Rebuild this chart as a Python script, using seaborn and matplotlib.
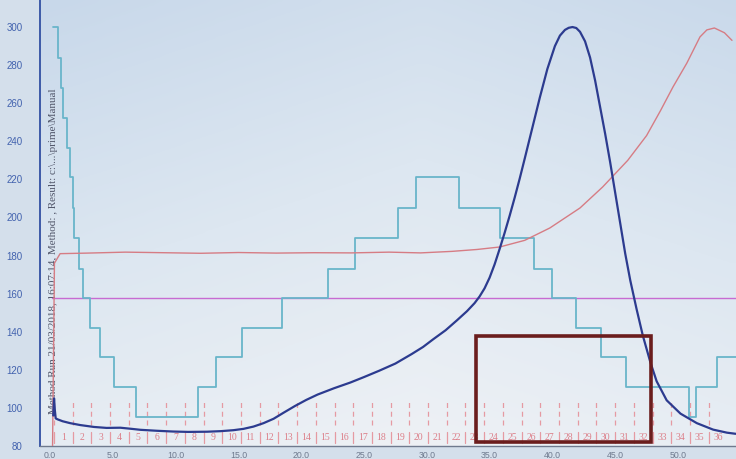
import numpy as np
import pandas as pd
import matplotlib
matplotlib.use("Agg")
import matplotlib.pyplot as plt
from matplotlib.patches import Rectangle
from matplotlib.colors import LinearSegmentedColormap
import seaborn as sns

# ---- chromatogram traces (x in min/ml, y in display units) ----
uv_t = [0.25, 0.32, 0.38, 0.45, 0.6, 1.0, 1.6, 2.4, 3.5, 4.5, 5.6, 6.5, 7.2, 8.5,
        9.8, 11.0, 12.5, 13.6, 14.6, 15.4, 16.2, 17.0, 17.8, 18.6, 19.5, 20.4,
        21.3, 22.6, 23.9, 25.0, 26.2, 27.5, 28.8, 29.7, 30.5, 31.5, 32.4, 33.2,
        33.8, 34.2, 34.6, 35.0, 35.4, 35.8, 36.2, 36.6, 37.0, 37.4, 37.8, 38.4,
        39.0, 39.6, 40.2, 40.6, 41.0, 41.3, 41.6, 41.9, 42.2, 42.6, 43.0, 43.4,
        43.8, 44.2, 44.6, 45.0, 45.4, 45.8, 46.2, 46.7, 47.2, 47.8, 48.3, 49.1,
        50.2, 51.5, 52.8, 53.9, 54.6]
uv_v = [96, 105, 99, 94.5, 94, 93, 92, 91, 90, 89.5, 89.6, 89, 88.5, 88,
        87.6, 87.4, 87.5, 87.8, 88.3, 89, 90.2, 92, 94.3, 97.5, 101, 104.2,
        107, 110.3, 113.3, 116.2, 119.5, 123.3, 128.3, 132.0, 136.0, 140.8, 146.0, 150.8,
        155.0, 158.5, 162.8, 168.4, 175.4, 183.5, 192, 201, 210.5, 220.5, 231, 247,
        263, 278, 290, 295.5, 298.5, 299.6, 300, 299.5, 297.5, 292.5, 284, 272,
        258, 244, 229, 213, 197, 181, 167, 152, 138, 124, 114, 104,
        97, 92, 88.6, 87, 86.4]

cond_t = [0.2, 0.35, 0.8, 3.0, 6.0, 9.0, 12.0, 15.0, 18.0, 21.0, 24.0, 27.0,
          29.5, 32.0, 34.0, 35.8, 37.8, 39.8, 42.2, 44.0, 46.0, 47.5, 48.6,
          49.6, 50.7, 51.75, 52.3, 52.9, 53.7, 54.3]
cond_v = [80, 176, 181, 181.3, 181.8, 181.5, 181.2, 181.6, 181.3, 181.5, 181.4, 181.8,
          181.4, 182.2, 183.2, 184.5, 188, 194.5, 205, 216, 230, 243, 256,
          268.5, 281, 294.8, 298.5, 299.5, 297, 293]

step_t = [0.24, 0.64, 0.88, 1.04, 1.35, 1.59, 1.83, 1.91, 2.31, 2.63, 3.18, 3.98,
          5.10, 6.85, 11.78, 13.20, 15.30, 18.50, 22.10, 24.30, 27.70, 29.10,
          32.60, 35.80, 38.50, 40.00, 41.90, 43.90, 45.90, 50.90, 51.40, 53.10, 55.0]
step_v = [300, 284, 268, 252, 236.5, 221, 205, 189, 173, 157.5, 142, 126.5,
          111, 95, 111, 126.5, 142, 157.5, 173, 189, 205, 221,
          205, 189, 173, 157.5, 142, 126.5, 111, 95, 111, 126.5, 126.5]

marker_level = 157.7
marker_start = 0.15

# fractions
frac_labels = [str(i) for i in range(1, 37)]
frac_start = 0.3
frac_size = 1.49

x_ticks = [0, 5, 10, 15, 20, 25, 30, 35, 40, 45, 50]
x_ticklabels = ["0.0", "5.0", "10.0", "15.0", "20.0", "25.0", "30.0", "35.0",
                "40.0", "45.0", "50.0"]
y_ticks = [80, 100, 120, 140, 160, 180, 200, 220, 240, 260, 280, 300]

run_note = r"Method Run 21/03/2018, 16:07:14, Method: , Result: c:\...\prime\Manual"

sns.set_theme(style="white")
plt.rcParams["font.family"] = ["Liberation Sans", "DejaVu Sans"]

fig = plt.figure(figsize=(7.36, 4.59), dpi=100)
fig.patch.set_facecolor("#d4dfeb")
ax = fig.add_axes([40 / 736, 13 / 459, 696 / 736, 446 / 459])

# screen backdrop: bluish at the top, paler towards the lower right
bg = LinearSegmentedColormap.from_list("screen", ["#c8d8ea", "#dde7f1", "#eef1f5"])
yy, xx = np.mgrid[0:1:200j, 0:1:200j]
shade = np.clip(0.75 * yy + 0.25 * (1 - np.abs(xx - 0.55) * 1.6), 0, 1)
ax.imshow(shade, cmap=bg, origin="upper", extent=[0, 1, 0, 1], aspect="auto",
          transform=ax.transAxes, zorder=0, interpolation="bicubic")

uv = pd.DataFrame({"t": uv_t, "v": uv_v})
cond = pd.DataFrame({"t": cond_t, "v": cond_v})
steps = pd.DataFrame({"t": step_t, "v": step_v})

# fraction marks along the bottom
frac_edges = [frac_start + k * frac_size for k in range(len(frac_labels) + 1)]
for k, edge in enumerate(frac_edges[:-1]):
    ax.plot([edge, edge], [91, 103], color="#e59aa2", lw=0.9,
            linestyle=(0, (4, 3)), zorder=1)
    ax.plot([edge, edge], [81.5, 87.5], color="#e59aa2", lw=0.9, zorder=1)
    ax.text(edge + frac_size / 2, 84.6, frac_labels[k], color="#dc7f89",
            fontsize=7, ha="center", va="center",
            family=["Liberation Serif", "DejaVu Serif"], zorder=1)

ax.text(0.24, 97.0, run_note, rotation=90, ha="center", va="bottom",
        fontsize=8.0, color="#51566a", family=["Liberation Serif", "DejaVu Serif"],
        zorder=2)

ax.plot([marker_start, 55], [marker_level, marker_level], color="#c76bd2",
        lw=1.0, zorder=3)
sns.lineplot(data=steps, x="t", y="v", ax=ax, color="#69b5ca", lw=1.3,
             drawstyle="steps-post", sort=False, estimator=None, zorder=4)
sns.lineplot(data=cond, x="t", y="v", ax=ax, color="#d67c84", lw=1.0,
             sort=False, estimator=None, zorder=5)
sns.lineplot(data=uv, x="t", y="v", ax=ax, color="#2c3b8f", lw=1.6,
             sort=False, estimator=None, zorder=6)

ax.add_patch(Rectangle((33.9, 82.2), 47.85 - 33.9, 137.8 - 82.2, fill=False,
                       edgecolor="#6b1d1d", lw=2.6, zorder=10, clip_on=False))

ax.set_xlim(-0.8, 54.62)
ax.set_ylim(80, 314.2)
ax.set_xticks(x_ticks)
ax.set_xticklabels(x_ticklabels)
ax.set_xticks([2.5 + 5 * i for i in range(11)], minor=True)
ax.set_yticks(y_ticks)
ax.set_xlabel("")
ax.set_ylabel("")
ax.tick_params(axis="x", which="both", direction="out", length=2.5, width=0.7,
               colors="#7a8598", labelsize=6.3, pad=1)
ax.tick_params(axis="y", direction="out", length=2.5, width=0.7,
               colors="#3d5aa8", labelsize=7, pad=10)
for lab in ax.get_yticklabels():
    lab.set_color("#4262ae")
for lab in ax.get_xticklabels():
    lab.set_color("#6f7a8e")

for side in ("top", "right"):
    ax.spines[side].set_visible(False)
ax.spines["left"].set_color("#3d5aa8")
ax.spines["left"].set_linewidth(1.4)
ax.spines["bottom"].set_color("#6f7a8e")
ax.spines["bottom"].set_linewidth(1.0)

fig.savefig("out.png", dpi=100, facecolor=fig.get_facecolor())
